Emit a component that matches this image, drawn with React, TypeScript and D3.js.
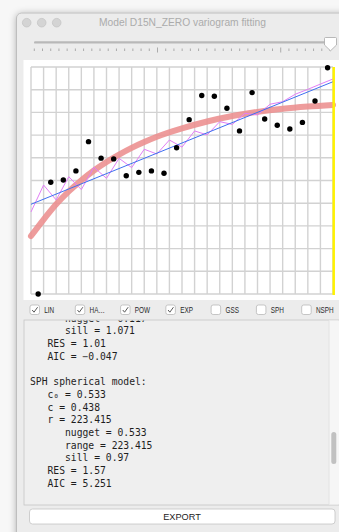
import React from "react";
import * as d3 from "d3";

// ---------- data ----------
const lagDist = [5.7, 15.7, 25.7, 35.7, 45.7, 55.7, 65.7, 75.7, 85.7, 95.7, 105.7, 115.7, 125.7, 135.7, 145.7, 155.7, 165.7, 175.7, 185.7, 195.7, 205.7, 215.7, 225.7, 235.7];
const semivar = [0.0, 0.615, 0.628, 0.678, 0.839, 0.748, 0.744, 0.651, 0.67, 0.678, 0.665, 0.805, 0.96, 1.093, 1.089, 1.023, 0.898, 1.109, 0.964, 0.929, 0.909, 0.945, 1.063, 1.246];

const linDist = [0, 240];
const linVal = [0.494, 1.169];

const haDist = [0, 10, 20, 30, 40, 50, 60, 70, 80, 90, 100, 110, 120, 130, 140, 150, 160, 170, 180, 190, 200, 210, 220, 230, 240];
const haVal = [0.452, 0.6, 0.518, 0.646, 0.575, 0.698, 0.637, 0.747, 0.696, 0.797, 0.771, 0.848, 0.809, 0.898, 0.876, 0.949, 0.934, 0.995, 0.986, 1.045, 1.059, 1.1, 1.127, 1.156, 1.184];

const expDist = [0, 10, 20, 30, 40, 50, 60, 70, 80, 90, 100, 120, 140, 160, 180, 200, 220, 240];
const expVal = [0.319, 0.41, 0.494, 0.565, 0.626, 0.68, 0.727, 0.768, 0.805, 0.837, 0.866, 0.912, 0.95, 0.98, 1.003, 1.02, 1.032, 1.041];

const modelNames = ["LIN", "HA\u2026", "POW", "EXP", "GSS", "SPH", "NSPH"];
const modelChecked = [true, true, true, true, false, false, false];

const textLines = ["nugget = 0.117", "sill = 1.071", "RES = 1.01", "AIC = \u22120.047", "", "SPH spherical model:", "c\u2080 = 0.533", "c = 0.438", "r = 223.415", "nugget = 0.533", "range = 223.415", "sill = 0.97", "RES = 1.57", "AIC = 5.251"];
const textIndent = [2, 2, 1, 1, 0, 0, 1, 1, 1, 2, 2, 2, 1, 1];

const sliderTicks = d3.range(0, 37);

export default function App() {
  const x = d3.scaleLinear().domain([0, 240]).range([31, 333]);
  const y = d3.scaleLinear().domain([0, 1.25]).range([294, 67]);
  const xGrid = d3.range(0, 241, 10);
  const yGrid = d3.range(0, 1.2501, 0.125);

  const line = d3.line<[number, number]>().x((d) => x(d[0])).y((d) => y(d[1]));
  const smooth = d3.line<[number, number]>().x((d) => x(d[0])).y((d) => y(d[1])).curve(d3.curveMonotoneX);

  const expPath = smooth(expDist.map((d, i) => [d, expVal[i]]) as [number, number][]);
  const haPath = line(haDist.map((d, i) => [d, haVal[i]]) as [number, number][]);
  const linPath = line(linDist.map((d, i) => [d, linVal[i]]) as [number, number][]);

  const sx = d3.scaleLinear().domain([0, 36]).range([34.3, 330]);

  const cbX = d3.scalePoint<string>().domain(modelNames).range([30, 301.7]);

  const mono = "'DejaVu Sans Mono', monospace";
  const sans = "'Liberation Sans', Arial, sans-serif";
  const charW = 5.83;

  return (
    <div style={{ position: "absolute", left: 0, top: 0 }}>
      <svg width={339} height={532} style={{ display: "block" }}>
        <defs>
          <filter id="shadow" x="-10%" y="-10%" width="120%" height="120%">
            <feDropShadow dx="0" dy="1" stdDeviation="3.5" floodColor="#000" floodOpacity="0.3" />
          </filter>
          <clipPath id="taClip">
            <rect x={24} y={320.5} width={305} height={184} />
          </clipPath>
        </defs>
        <rect x={0} y={0} width={339} height={532} fill="#f7f7f7" />
        {/* window */}
        <rect x={16.5} y={13} width={360} height={560} rx={5} fill="#ececec" stroke="#b4b4b4" strokeWidth={0.8} filter="url(#shadow)" />
        {/* traffic lights */}
        {[26.7, 41.7, 56.7].map((cx, i) => (
          <circle key={i} cx={cx} cy={22.7} r={4.3} fill="#d4d4d4" stroke="#c2c2c2" strokeWidth={0.7} />
        ))}
        <text x={182.5} y={26.3} textAnchor="middle" fontFamily={sans} fontSize={10.8} fill="#ababab" textLength={167} lengthAdjust="spacingAndGlyphs">
          Model D15N_ZERO variogram fitting
        </text>

        {/* slider */}
        <rect x={34} y={41.2} width={296} height={2.4} rx={1.2} fill="#b8b8b8" />
        {sliderTicks.map((t) => {
          const major = t === 15 || t === 30;
          return <line key={t} x1={sx(t)} x2={sx(t)} y1={major ? 47.5 : 48.5} y2={major ? 52.5 : 51} stroke="#9a9a9a" strokeWidth={0.8} />;
        })}
        <path d="M324.5,38.5 Q324.5,37.5 325.5,37.5 L335.5,37.5 Q336.5,37.5 336.5,38.5 L336.5,45 L330.5,50.8 L324.5,45 Z" fill="#ffffff" stroke="#a8a8a8" strokeWidth={0.8} />

        {/* chart panel */}
        <rect x={23.5} y={60} width={320} height={240} fill="#ffffff" />
        {xGrid.map((g) => (
          <line key={"vx" + g} x1={x(g)} x2={x(g)} y1={y(0)} y2={y(1.25)} stroke="#d2d2d2" strokeWidth={1.4} />
        ))}
        {yGrid.map((g, i) => (
          <line key={"hy" + i} x1={x(0)} x2={x(240)} y1={y(g)} y2={y(g)} stroke="#d2d2d2" strokeWidth={1.4} />
        ))}
        <path d={expPath || ""} fill="none" stroke="#ec8e8e" strokeOpacity={0.88} strokeWidth={6} strokeLinecap="round" />
        <path d={haPath || ""} fill="none" stroke="#e27ef6" strokeWidth={1} />
        <path d={linPath || ""} fill="none" stroke="#3f6ff0" strokeWidth={1} />
        <line x1={x(240) + 0.7} x2={x(240) + 0.7} y1={y(1.25)} y2={y(0) + 1} stroke="#fff200" strokeWidth={2.5} />
        {lagDist.map((d, i) => (
          <circle key={"p" + i} cx={x(d)} cy={y(semivar[i])} r={2.7} fill="#000" />
        ))}

        {/* checkboxes */}
        {modelNames.map((m, i) => {
          const bx = cbX(m) as number;
          return (
            <g key={m}>
              <rect x={bx} y={305} width={9.5} height={9.5} rx={2} fill="#ffffff" stroke="#b9b9b9" strokeWidth={0.8} />
              {modelChecked[i] && (
                <path d={`M${bx + 2.2},${305 + 5} L${bx + 4},${305 + 7.2} L${bx + 7.6},${305 + 2.2}`} fill="none" stroke="#5a5a5a" strokeWidth={1} />
              )}
              <text transform={`translate(${bx + 14.3},313.4) scale(0.68,1)`} fontFamily={sans} fontSize={9.4} fill="#2a2a2a">
                {m}
              </text>
            </g>
          );
        })}

        {/* text area */}
        <rect x={24} y={320} width={315} height={185} fill="#efefef" stroke="#c6c6c6" strokeWidth={0.8} />
        <rect x={329} y={320.5} width={10} height={184} fill="#f6f6f6" />
        <line x1={329} x2={329} y1={320.5} y2={504.5} stroke="#e0e0e0" strokeWidth={0.8} />
        <rect x={331.3} y={432} width={5} height={32} rx={2.5} fill="#c1c1c1" />
        <g clipPath="url(#taClip)">
          {textLines.map((t, i) => (
            <text key={i} x={30 + textIndent[i] * 3 * charW} y={321.8 + i * 12.68} fontFamily={mono} fontSize={9.7} fill="#1e1e1e">
              {t}
            </text>
          ))}
        </g>

        {/* export button */}
        <rect x={29.5} y={509} width={305.5} height={15} rx={3} fill="#ffffff" stroke="#c4c4c4" strokeWidth={0.8} />
        <text x={182} y={519.8} textAnchor="middle" fontFamily={sans} fontSize={9.2} fill="#222">
          EXPORT
        </text>
      </svg>
    </div>
  );
}
